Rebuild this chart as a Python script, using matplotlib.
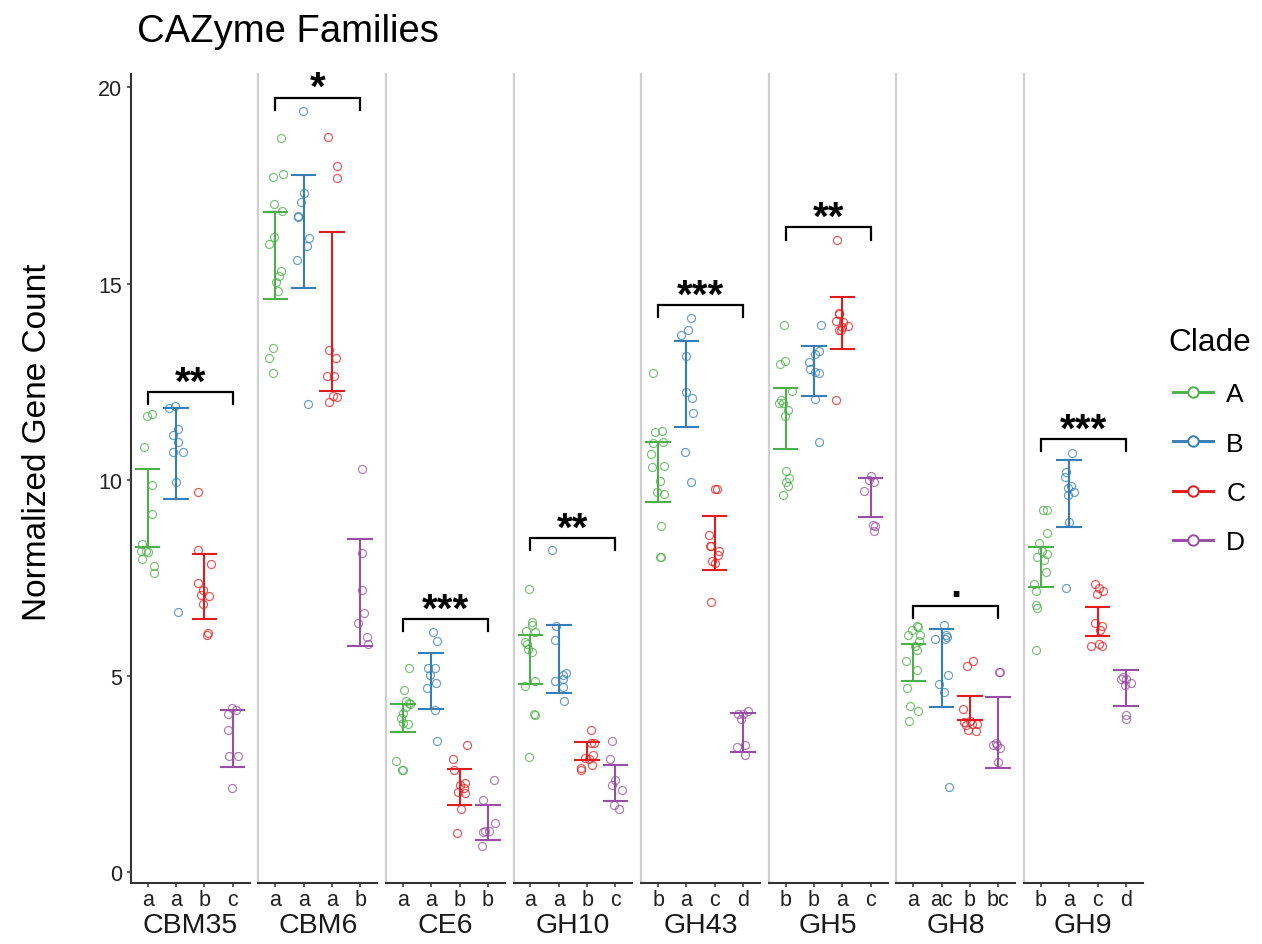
import numpy as np
import matplotlib.pyplot as plt
from matplotlib.lines import Line2D

plt.rcParams["font.family"] = ["Liberation Sans", "DejaVu Sans"]

families = ["CBM35", "CBM6", "CE6", "GH10", "GH43", "GH5", "GH8", "GH9"]
clades = ["A", "B", "C", "D"]
clade_colors = ["#4DAF4A", "#377EB8", "#E41A1C", "#984EA3"]

# normalized gene counts per family, one list per clade
clade_a = [
    [11.67, 11.62, 10.83, 9.87, 9.12, 8.36, 8.18, 8.17, 8.15, 7.98, 7.80, 7.63],
    [18.70, 17.71, 17.79, 17.03, 16.86, 16.19, 16.00, 15.32, 15.18, 15.04, 14.80, 13.35, 13.10, 12.71],
    [5.20, 4.64, 4.35, 4.32, 4.27, 4.20, 4.05, 3.92, 3.80, 3.76, 2.84, 2.61, 2.59],
    [7.21, 6.36, 6.30, 6.14, 6.13, 5.87, 5.82, 5.69, 5.62, 4.86, 4.75, 4.03, 4.01, 2.92],
    [12.72, 11.23, 11.21, 10.96, 10.94, 10.66, 10.34, 10.32, 9.97, 9.68, 9.63, 8.81, 8.04, 8.03],
    [13.95, 13.03, 12.94, 12.26, 12.03, 11.96, 11.96, 11.78, 11.63, 10.21, 10.05, 9.95, 9.85, 9.60],
    [6.27, 6.25, 6.16, 6.04, 6.03, 5.89, 5.77, 5.65, 5.38, 5.16, 4.70, 4.22, 4.11, 3.86],
    [9.23, 9.23, 8.64, 8.39, 8.19, 8.11, 8.03, 7.96, 7.64, 7.35, 7.17, 6.81, 6.73, 5.67],
]
clade_b = [
    [11.89, 11.82, 11.29, 11.14, 10.97, 10.70, 10.70, 9.95, 6.62],
    [19.40, 17.31, 17.09, 16.71, 16.70, 16.16, 15.95, 15.61, 11.93],
    [6.13, 5.89, 5.20, 5.20, 5.03, 4.82, 4.70, 4.12, 3.33],
    [8.20, 6.28, 5.91, 5.06, 5.01, 4.91, 4.87, 4.71, 4.36],
    [14.11, 13.81, 13.69, 13.16, 12.24, 12.08, 11.70, 10.70, 9.95],
    [13.94, 13.27, 13.21, 13.01, 12.82, 12.74, 12.71, 12.05, 10.96],
    [6.30, 6.03, 5.99, 5.94, 5.93, 5.01, 4.80, 4.59, 2.16],
    [10.68, 10.19, 10.06, 9.83, 9.79, 9.68, 9.61, 8.92, 7.23],
]
clade_c = [
    [9.68, 8.21, 7.85, 7.37, 7.18, 7.07, 7.03, 6.84, 6.09, 6.05],
    [18.73, 18.00, 17.70, 13.31, 13.09, 12.64, 12.65, 12.14, 12.11, 11.97],
    [3.24, 2.89, 2.61, 2.28, 2.22, 2.15, 2.05, 2.02, 1.61, 1.00],
    [3.63, 3.28, 3.28, 2.99, 2.91, 2.89, 2.72, 2.66, 2.60],
    [9.77, 9.75, 8.59, 8.32, 8.31, 8.17, 8.08, 7.92, 7.87, 6.89],
    [16.10, 14.24, 14.22, 14.05, 14.01, 13.91, 13.88, 13.82, 13.82, 12.03],
    [5.37, 5.26, 4.16, 3.86, 3.82, 3.78, 3.78, 3.75, 3.63, 3.60],
    [7.35, 7.24, 7.17, 7.08, 6.34, 6.28, 6.18, 5.82, 5.76, 5.75],
]
clade_d = [
    [4.18, 4.12, 4.03, 3.63, 2.96, 2.96, 2.14],
    [10.27, 8.13, 7.19, 6.60, 6.35, 6.00, 5.81],
    [2.35, 1.83, 1.26, 1.05, 1.05, 1.03, 0.66],
    [3.35, 2.88, 2.35, 2.22, 2.10, 1.70, 1.61],
    [4.10, 4.04, 4.04, 3.90, 3.25, 3.19, 2.98],
    [10.09, 10.00, 9.95, 9.71, 8.85, 8.82, 8.69],
    [5.09, 5.09, 3.28, 3.24, 3.24, 3.15, 2.80],
    [4.97, 4.92, 4.91, 4.83, 4.77, 4.01, 3.91],
]

# horizontal jitter of each point (in category units)
jitter_a = [
    [0.14, -0.04, -0.14, 0.16, 0.16, -0.21, -0.07, -0.25, 0.0, -0.21, 0.21, 0.22],
    [0.19, -0.09, 0.26, -0.05, 0.24, -0.06, -0.22, 0.21, 0.12, 0.01, 0.11, -0.07, -0.22, -0.08],
    [0.21, 0.04, 0.10, 0.22, 0.24, 0.11, 0.0, -0.07, 0.0, 0.19, -0.23, -0.04, 0.0],
    [-0.06, 0.04, 0.06, -0.17, 0.15, -0.20, -0.13, -0.08, 0.07, 0.16, -0.20, 0.12, 0.17, -0.04],
    [-0.17, 0.13, -0.10, 0.16, -0.17, -0.24, 0.21, -0.20, 0.05, -0.03, 0.21, 0.11, 0.05, 0.11],
    [-0.06, -0.03, -0.20, 0.23, -0.15, -0.25, -0.10, 0.08, -0.01, 0.01, 0.11, 0.02, 0.07, -0.11],
    [0.13, 0.16, -0.05, -0.18, 0.22, 0.19, 0.07, 0.14, -0.25, 0.13, -0.21, -0.11, 0.16, -0.14],
    [0.07, 0.23, 0.23, -0.07, 0.05, 0.21, -0.13, 0.10, 0.17, -0.23, -0.19, -0.19, -0.14, -0.18],
]
jitter_b = [
    [-0.02, -0.23, 0.08, -0.09, 0.08, -0.12, 0.25, 0.01, 0.08],
    [-0.01, 0.02, -0.08, -0.21, -0.19, 0.18, 0.13, -0.22, 0.17],
    [0.05, 0.20, -0.12, 0.12, -0.03, 0.18, -0.14, 0.15, 0.20],
    [-0.25, -0.09, -0.12, 0.26, 0.14, 0.16, -0.14, 0.14, 0.20],
    [0.18, 0.04, -0.20, 0.0, 0.0, 0.19, 0.23, -0.05, 0.17],
    [0.26, 0.19, 0.04, -0.17, -0.15, 0.03, 0.19, 0.03, 0.17],
    [0.08, 0.17, 0.20, 0.13, -0.22, 0.22, -0.10, 0.07, 0.26],
    [0.10, -0.10, -0.15, 0.05, -0.05, 0.17, -0.03, 0.0, -0.10],
]
jitter_c = [
    [-0.22, -0.21, 0.24, -0.21, -0.06, -0.11, 0.15, -0.06, 0.12, 0.08],
    [-0.13, 0.18, 0.19, -0.09, 0.15, -0.18, 0.06, 0.03, 0.19, -0.09],
    [0.25, -0.22, -0.21, 0.20, 0.0, 0.17, -0.06, 0.18, 0.04, -0.08],
    [0.13, 0.15, 0.26, 0.20, -0.07, 0.05, 0.17, -0.23, -0.22],
    [0.02, 0.08, -0.21, -0.18, -0.13, 0.15, 0.10, -0.08, 0.01, -0.13],
    [-0.19, -0.10, -0.13, -0.23, 0.02, 0.20, -0.01, -0.12, -0.06, -0.23],
    [0.12, -0.11, -0.23, 0.02, -0.20, 0.06, 0.24, -0.13, -0.08, 0.21],
    [-0.10, 0.05, 0.19, -0.03, -0.10, 0.17, 0.08, 0.07, -0.22, 0.17],
]
jitter_d = [
    [-0.03, 0.12, -0.16, -0.15, -0.12, 0.19, -0.02],
    [0.05, 0.07, 0.06, 0.12, -0.08, 0.23, 0.26],
    [0.22, -0.18, 0.25, -0.10, 0.03, -0.18, -0.21],
    [-0.13, -0.18, -0.01, -0.11, 0.25, -0.04, 0.12],
    [0.16, -0.19, 0.01, -0.08, 0.07, -0.20, 0.06],
    [0.01, -0.06, 0.12, -0.22, 0.08, 0.15, 0.13],
    [0.02, 0.05, -0.08, -0.17, -0.03, 0.05, 0.01],
    [-0.09, -0.17, 0.02, 0.18, -0.04, 0.0, 0.02],
]

# error bar limits, per family: [A, B, C, D]
err_low = [
    [8.28, 9.50, 6.45, 2.67],
    [14.60, 14.89, 12.27, 5.77],
    [3.56, 4.16, 1.72, 0.82],
    [4.78, 4.56, 2.86, 1.81],
    [9.44, 11.34, 7.69, 3.06],
    [10.78, 12.13, 13.32, 9.06],
    [4.86, 4.20, 3.88, 2.65],
    [7.26, 8.80, 6.01, 4.24],
]
err_high = [
    [10.27, 11.82, 8.11, 4.13],
    [16.83, 17.77, 16.32, 8.49],
    [4.27, 5.59, 2.63, 1.71],
    [6.05, 6.30, 3.31, 2.72],
    [10.97, 13.53, 9.08, 4.05],
    [12.34, 13.41, 14.66, 10.05],
    [5.82, 6.20, 4.48, 4.46],
    [8.29, 10.51, 6.75, 5.15],
]

# compact letter display under each clade
group_letters = [
    ["a", "a", "b", "c"],
    ["a", "a", "a", "b"],
    ["a", "a", "b", "b"],
    ["a", "a", "b", "c"],
    ["b", "a", "c", "d"],
    ["b", "b", "a", "c"],
    ["a", "ac", "b", "bc"],
    ["b", "a", "c", "d"],
]

# overall test: bracket height and significance code
bracket_y = [12.23, 19.74, 6.45, 8.52, 14.46, 16.43, 6.78, 11.04]
signif = ["**", "*", "***", "**", "***", "**", ".", "***"]

values = [clade_a, clade_b, clade_c, clade_d]
jitters = [jitter_a, jitter_b, jitter_c, jitter_d]

W, H = 1262, 945
fig = plt.figure(figsize=(W / 100, H / 100), dpi=100)

left0, stride, pw = 130.7, 127.6, 118.9
top, bottom = 75, 884
axis_col = "#333333"

for p, fam in enumerate(families):
    ax = fig.add_axes([(left0 + p * stride) / W, 1 - bottom / H, pw / W, (bottom - top) / H])
    ax.set_xlim(-0.6, 3.6)
    ax.set_ylim(-0.28, 20.34)

    for k in range(4):
        col = clade_colors[k]
        x = k + np.array(jitters[k][p])
        ax.plot(x, values[k][p], "o", mfc="none", mec=col, mew=0.85, ms=5.8,
                alpha=0.75, zorder=2)
        lo, hi = err_low[p][k], err_high[p][k]
        ax.vlines(k, lo, hi, color=col, lw=1.5, zorder=3)
        ax.hlines([lo, hi], k - 0.45, k + 0.45, color=col, lw=1.5, zorder=3)

    # significance bracket from first to last clade
    by = bracket_y[p]
    ax.plot([0, 0, 3, 3], [by - 0.31, by, by, by - 0.31], color="black", lw=1.6,
            solid_joinstyle="miter", zorder=4)
    dy = 7 if signif[p] == "." else -1.2
    ax.annotate(signif[p], xy=(1.5, by), xytext=(0, dy), textcoords="offset points",
                ha="center", va="baseline", fontsize=29, fontweight="bold", color="black")

    for s in ["top", "right"]:
        ax.spines[s].set_visible(False)
    ax.spines["bottom"].set_color(axis_col)
    ax.spines["bottom"].set_linewidth(1.5)
    ax.set_xticks(range(4))
    ax.set_xticklabels(group_letters[p])
    ax.tick_params(axis="x", length=3, width=1.1, color=axis_col, pad=1.5,
                   labelsize=15.5, labelcolor="#222222")
    ax.set_xlabel(fam, fontsize=20.5, color="#1a1a1a", labelpad=1)

    if p == 0:
        ax.spines["left"].set_color(axis_col)
        ax.spines["left"].set_linewidth(1.5)
        ax.set_yticks([0, 5, 10, 15, 20])
        ax.tick_params(axis="y", length=3, width=1.1, color=axis_col, pad=3,
                       labelsize=15.5, labelcolor="#222222")
    else:
        ax.spines["left"].set_color("#cfcfcf")
        ax.spines["left"].set_linewidth(1.6)
        ax.set_yticks([])

fig.text(137 / W, 1 - 42 / H, "CAZyme Families", fontsize=27.5, ha="left",
         va="baseline", color="black")
fig.text(38 / W, 1 - 442 / H, "Normalized Gene Count", fontsize=24, rotation=90,
         ha="center", va="center", color="black")

handles = [Line2D([], [], color=c, lw=2.1, marker="o", mfc="white", mec=c, ms=7.5, mew=1.4)
           for c in clade_colors]
fig.legend(handles, clades, title="Clade", loc="upper left",
           bbox_to_anchor=(1168 / W, 1 - 328 / H), frameon=False, fontsize=19,
           title_fontsize=22.8, handlelength=1.5, handletextpad=0.5, labelspacing=0.96,
           borderpad=0, borderaxespad=0, numpoints=1)

fig.savefig("out.png", dpi=100)
